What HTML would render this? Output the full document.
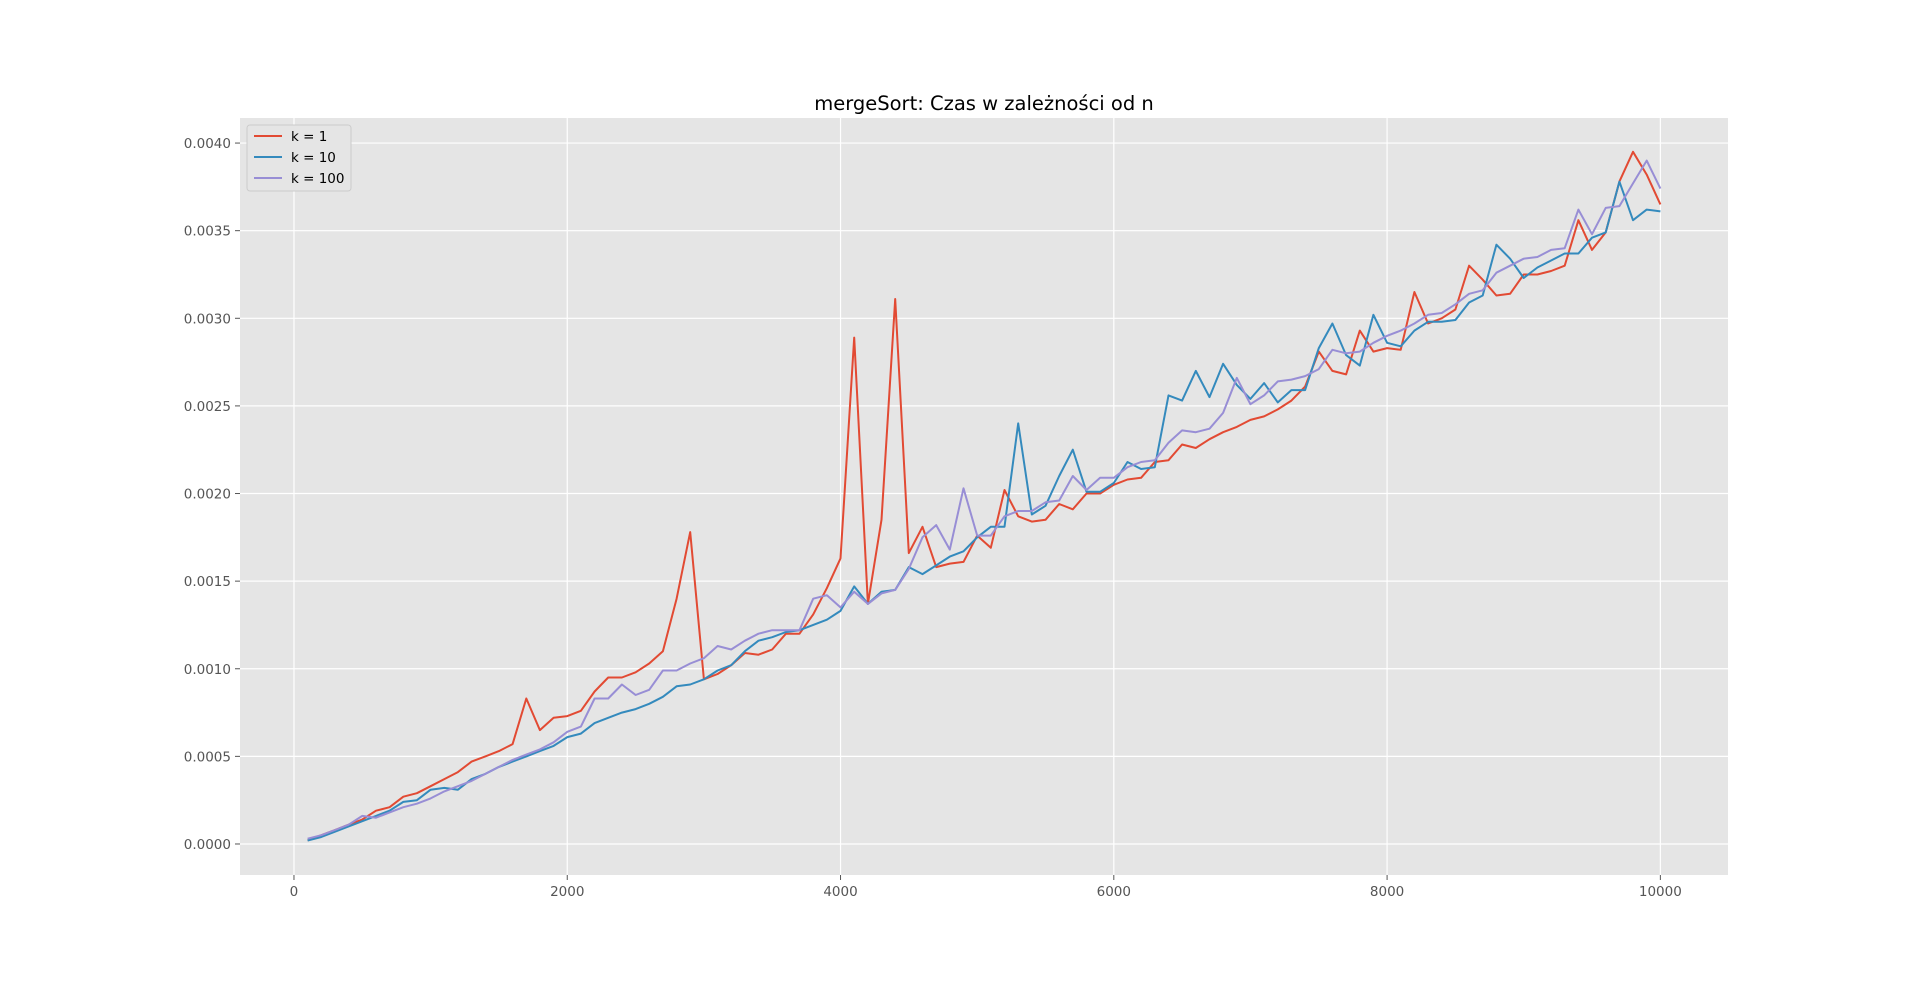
<!DOCTYPE html>
<html><head><meta charset="utf-8"><style>
html,body{margin:0;padding:0;background:#fff;}
svg{display:block;font-family:"DejaVu Sans","Liberation Sans",sans-serif;}
</style></head><body>
<svg id="chart" width="1920" height="983" viewBox="0 0 1920 983" xmlns="http://www.w3.org/2000/svg">
<rect x="0" y="0" width="1920" height="983" fill="#fff"/>
<text x="984" y="110" font-size="19.5" text-anchor="middle" fill="#000">mergeSort: Czas w zależności od n</text>
<rect x="240" y="118" width="1488" height="757" fill="#e5e5e5"/>
<g id="grid"></g><g id="series"></g><g id="ticks"></g>
<g>
<rect x="247" y="125" width="104" height="66" fill="#e5e5e5" stroke="#ccc" stroke-width="1" rx="3"/>
<g><line x1="254" y1="136" x2="282" y2="136" stroke="#E24A33" stroke-width="2"/><text x="291" y="141" font-size="13.5" fill="#000">k = 1</text></g>
<g><line x1="254" y1="157" x2="282" y2="157" stroke="#348ABD" stroke-width="2"/><text x="291" y="162" font-size="13.5" fill="#000">k = 10</text></g>
<g><line x1="254" y1="178" x2="282" y2="178" stroke="#988ED5" stroke-width="2"/><text x="291" y="183" font-size="13.5" fill="#000">k = 100</text></g>
</g>
</svg>
<script>
const kOne = [0.02,0.05,0.08,0.11,0.14,0.19,0.21,0.27,0.29,0.33,0.37,0.41,0.47,0.50,0.53,0.57,0.83,0.65,0.72,0.73,0.76,0.87,0.95,0.95,0.98,1.03,1.10,1.40,1.78,0.94,0.97,1.02,1.09,1.08,1.11,1.20,1.20,1.31,1.46,1.63,2.89,1.37,1.85,3.11,1.66,1.81,1.58,1.60,1.61,1.76,1.69,2.02,1.87,1.84,1.85,1.94,1.91,2.00,2.00,2.05,2.08,2.09,2.18,2.19,2.28,2.26,2.31,2.35,2.38,2.42,2.44,2.48,2.53,2.61,2.81,2.70,2.68,2.93,2.81,2.83,2.82,3.15,2.97,3.00,3.05,3.30,3.22,3.13,3.14,3.25,3.25,3.27,3.30,3.56,3.39,3.49,3.78,3.95,3.82,3.65];
const kTen = [0.02,0.04,0.07,0.10,0.13,0.16,0.19,0.24,0.25,0.31,0.32,0.31,0.37,0.40,0.44,0.47,0.50,0.53,0.56,0.61,0.63,0.69,0.72,0.75,0.77,0.80,0.84,0.90,0.91,0.94,0.99,1.02,1.10,1.16,1.18,1.21,1.22,1.25,1.28,1.33,1.47,1.37,1.44,1.45,1.58,1.54,1.59,1.64,1.67,1.75,1.81,1.81,2.40,1.88,1.93,2.10,2.25,2.01,2.01,2.06,2.18,2.14,2.15,2.56,2.53,2.70,2.55,2.74,2.62,2.54,2.63,2.52,2.59,2.59,2.83,2.97,2.79,2.73,3.02,2.86,2.84,2.93,2.98,2.98,2.99,3.09,3.13,3.42,3.34,3.23,3.29,3.33,3.37,3.37,3.46,3.49,3.78,3.56,3.62,3.61];
const kHundred = [0.03,0.05,0.08,0.11,0.16,0.15,0.18,0.21,0.23,0.26,0.30,0.33,0.36,0.40,0.44,0.48,0.51,0.54,0.58,0.64,0.67,0.83,0.83,0.91,0.85,0.88,0.99,0.99,1.03,1.06,1.13,1.11,1.16,1.20,1.22,1.22,1.22,1.40,1.42,1.35,1.44,1.37,1.43,1.45,1.57,1.75,1.82,1.68,2.03,1.76,1.76,1.87,1.90,1.90,1.95,1.96,2.10,2.02,2.09,2.09,2.15,2.18,2.19,2.29,2.36,2.35,2.37,2.46,2.66,2.51,2.56,2.64,2.65,2.67,2.71,2.82,2.80,2.81,2.86,2.90,2.93,2.97,3.02,3.03,3.08,3.14,3.16,3.26,3.30,3.34,3.35,3.39,3.40,3.62,3.48,3.63,3.64,3.77,3.90,3.74];
const xTicks = [0,2000,4000,6000,8000,10000];
const yTicks = [0,0.5,1.0,1.5,2.0,2.5,3.0,3.5,4.0];
const yTickLabels = ["0.0000","0.0005","0.0010","0.0015","0.0020","0.0025","0.0030","0.0035","0.0040"];

const NS="http://www.w3.org/2000/svg";
const L=240,R=1728,T=118,B=875;
const X0=-395,X1=10495,Y0=-0.177,Y1=4.143;
function sx(v){return L+(v-X0)/(X1-X0)*(R-L);}
function sy(v){return B-(v-Y0)/(Y1-Y0)*(B-T);}
function mk(tag,attrs,parent){const e=document.createElementNS(NS,tag);for(const k in attrs)e.setAttribute(k,attrs[k]);parent.appendChild(e);return e;}
const grid=document.getElementById('grid'),ticks=document.getElementById('ticks'),ser=document.getElementById('series');
xTicks.forEach(v=>{
  const x=sx(v);
  const g=mk('line',{x1:x,x2:x,y1:T,y2:B,stroke:'#fff','stroke-width':1.2},grid);
  
  
  mk('line',{x1:x,x2:x,y1:B,y2:B+5,stroke:'#555','stroke-width':1},ticks);
  const t=mk('text',{x:x,y:B+21,'font-size':13.5,'text-anchor':'middle',fill:'#555'},ticks);
  t.textContent=String(v);
  
  
});
yTicks.forEach((v,i)=>{
  const y=sy(v);
  const g=mk('line',{x1:L,x2:R,y1:y,y2:y,stroke:'#fff','stroke-width':1.2},grid);
  
  
  mk('line',{x1:L-5,x2:L,y1:y,y2:y,stroke:'#555','stroke-width':1},ticks);
  const t=mk('text',{x:L-9,y:y+5,'font-size':13.5,'text-anchor':'end',fill:'#555'},ticks);
  t.textContent=yTickLabels[i];
  
  
});
[[kOne,'#E24A33','series-k1'],[kTen,'#348ABD','series-k10'],[kHundred,'#988ED5','series-k100']].forEach(([d,c,n])=>{
  const pts=d.map((v,i)=>sx((i+1)*100).toFixed(1)+','+sy(v).toFixed(1)).join(' ');
  const p=mk('polyline',{points:pts,fill:'none',stroke:c,'stroke-width':2,'stroke-linejoin':'round'},ser);
  
  
});
</script>
</body></html>
